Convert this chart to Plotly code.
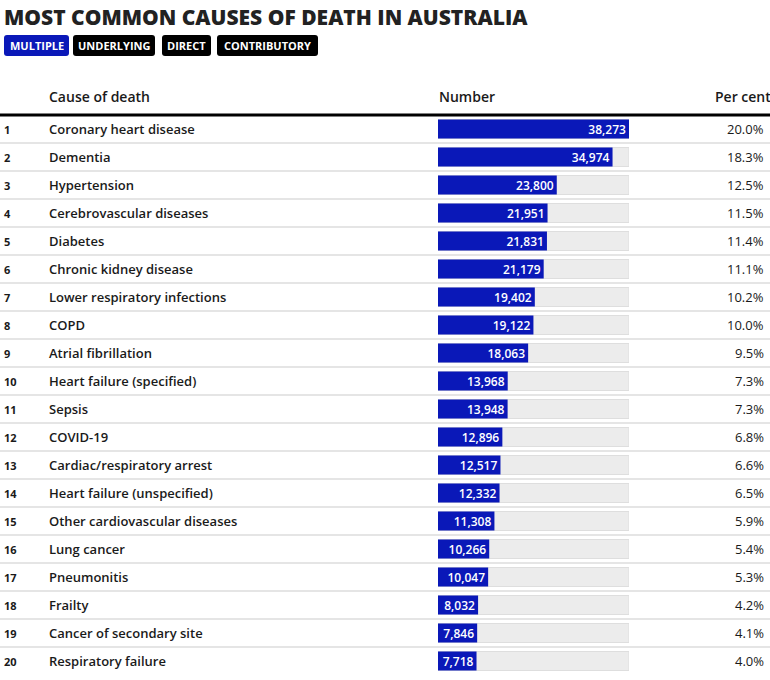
import plotly.graph_objects as go

title = "MOST COMMON CAUSES OF DEATH IN AUSTRALIA"
buttons = ["MULTIPLE", "UNDERLYING", "DIRECT", "CONTRIBUTORY"]
headers = ["Cause of death", "Number", "Per cent"]
ranks = list(range(1, 21))
causes = [
    "Coronary heart disease", "Dementia", "Hypertension", "Cerebrovascular diseases",
    "Diabetes", "Chronic kidney disease", "Lower respiratory infections", "COPD",
    "Atrial fibrillation", "Heart failure (specified)", "Sepsis", "COVID-19",
    "Cardiac/respiratory arrest", "Heart failure (unspecified)",
    "Other cardiovascular diseases", "Lung cancer", "Pneumonitis", "Frailty",
    "Cancer of secondary site", "Respiratory failure",
]
numbers = [38273, 34974, 23800, 21951, 21831, 21179, 19402, 19122, 18063, 13968,
           13948, 12896, 12517, 12332, 11308, 10266, 10047, 8032, 7846, 7718]
percents = [20.0, 18.3, 12.5, 11.5, 11.4, 11.1, 10.2, 10.0, 9.5, 7.3,
            7.3, 6.8, 6.6, 6.5, 5.9, 5.4, 5.3, 4.2, 4.1, 4.0]

W, H = 770, 680
ROW0, STEP = 129, 28  # pixel centre of row 1, row pitch
y_top = 1 - ROW0 / STEP
y_bot = 1 + (H - ROW0) / STEP
BLUE = "#0a18b8"
FONT = "Open Sans"
TXT = "#1a1a1a"
maxv = max(numbers)

fig = go.Figure()
fig.add_trace(go.Bar(
    x=[maxv] * len(ranks), y=ranks, orientation="h", width=19 / STEP,
    marker=dict(color="#ececec", line=dict(color="#dedede", width=1)),
    hoverinfo="skip", showlegend=False,
))
fig.add_trace(go.Bar(
    x=numbers, y=ranks, orientation="h", width=19 / STEP,
    marker=dict(color=BLUE, line=dict(width=0)),
    text=[f"{v:,}" for v in numbers], textposition="inside", insidetextanchor="end",
    textfont=dict(color="white", size=12, family=FONT, weight=600),
    showlegend=False, cliponaxis=False,
))

fig.update_layout(
    width=W, height=H, margin=dict(l=0, r=0, t=0, b=0),
    paper_bgcolor="white", plot_bgcolor="white", barmode="overlay",
    uniformtext=dict(minsize=12, mode="show"),
    xaxis=dict(domain=[438 / W, 629 / W], range=[0, maxv], visible=False, fixedrange=True),
    yaxis=dict(domain=[0, 1], range=[y_bot, y_top], visible=False, fixedrange=True),
    font=dict(family=FONT),
)

def py(pix):
    return 1 + (pix - ROW0) / STEP

shapes = []
shapes.append(dict(type="line", xref="paper", yref="y", x0=0, x1=1, y0=py(115), y1=py(115),
                   line=dict(color="black", width=3), layer="below"))
for i in ranks[:-1]:
    shapes.append(dict(type="line", xref="paper", yref="y", x0=0, x1=1, y0=i + 0.5, y1=i + 0.5,
                       line=dict(color="#dddddd", width=1.5), layer="below"))

annotations = []
annotations.append(dict(text=title, x=2 / W, y=1 - 17 / H, xref="paper", yref="paper",
                        xanchor="left", yanchor="middle", showarrow=False,
                        font=dict(size=21, color="#222222", family=FONT, weight=800)))

btn_x = [(4, 69), (73, 155), (162, 211), (217, 318)]
by0, by1 = 35, 56
for j, (label, (x0, x1)) in enumerate(zip(buttons, btn_x)):
    r = 3
    X0, X1 = x0 / W, x1 / W
    Y0, Y1 = 1 - by1 / H, 1 - by0 / H
    rx, ry = r / W, r / H
    path = (f"M {X0+rx},{Y0} L {X1-rx},{Y0} Q {X1},{Y0} {X1},{Y0+ry} L {X1},{Y1-ry} "
            f"Q {X1},{Y1} {X1-rx},{Y1} L {X0+rx},{Y1} Q {X0},{Y1} {X0},{Y1-ry} "
            f"L {X0},{Y0+ry} Q {X0},{Y0} {X0+rx},{Y0} Z")
    shapes.append(dict(type="path", xref="paper", yref="paper", path=path,
                       fillcolor=BLUE if j == 0 else "black", line=dict(width=0)))
    annotations.append(dict(text=label, x=(x0 + x1) / 2 / W, y=1 - (by0 + by1) / 2 / H,
                            xref="paper", yref="paper", xanchor="center", yanchor="middle",
                            showarrow=False, font=dict(size=11, color="white", family=FONT, weight=700)))

hy = py(96)
for txt, xp in zip(headers, [47, 437, 713]):
    annotations.append(dict(text=txt, x=xp / W, y=hy, xref="paper", yref="y", xanchor="left",
                            yanchor="middle", showarrow=False,
                            font=dict(size=14, color=TXT, family=FONT, weight=600)))

for r_, c, p in zip(ranks, causes, percents):
    annotations.append(dict(text=str(r_), x=2 / W, y=r_, xref="paper", yref="y",
                            xanchor="left", yanchor="middle", showarrow=False,
                            font=dict(size=11, color=TXT, family=FONT, weight=700)))
    annotations.append(dict(text=c, x=47 / W, y=r_, xref="paper", yref="y",
                            xanchor="left", yanchor="middle", showarrow=False,
                            font=dict(size=13, color=TXT, family=FONT, weight=600)))
    annotations.append(dict(text=f"{p:.1f}%", x=766 / W, y=r_, xref="paper", yref="y",
                            xanchor="right", yanchor="middle", showarrow=False,
                            font=dict(size=13, color=TXT, family=FONT)))

fig.update_layout(shapes=shapes, annotations=annotations)
fig.write_html("out.html", config={"displayModeBar": False},
               post_script="document.body.style.margin='0';")
